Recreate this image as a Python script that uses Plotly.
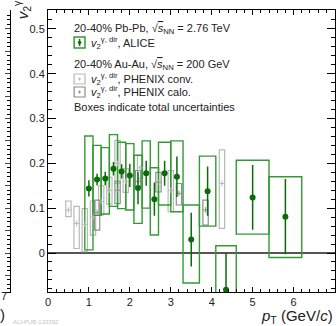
import plotly.graph_objects as go

# ---------------- data ----------------
alice_pt = [1.0, 1.2, 1.4, 1.6, 1.8, 2.0, 2.2, 2.4, 2.6, 2.85, 3.15, 3.5, 3.9, 4.35, 5.0, 5.8]
alice_v2 = [0.144, 0.164, 0.166, 0.188, 0.182, 0.173, 0.145, 0.178, 0.120, 0.178, 0.170, 0.030, 0.138, -0.082, 0.124, 0.081]
alice_stat = [0.018, 0.013, 0.015, 0.015, 0.016, 0.026, 0.036, 0.028, 0.037, 0.028, 0.045, 0.060, 0.055, 0.082, 0.072, 0.084]
alice_bin_lo = [0.9, 1.1, 1.3, 1.5, 1.7, 1.9, 2.1, 2.3, 2.5, 2.7, 3.0, 3.3, 3.7, 4.1, 4.6, 5.4]
alice_bin_hi = [1.1, 1.3, 1.5, 1.7, 1.9, 2.1, 2.3, 2.5, 2.7, 3.0, 3.3, 3.7, 4.1, 4.6, 5.4, 6.2]
alice_tot_lo = [0.007, 0.084, 0.087, 0.104, 0.099, 0.096, 0.066, 0.100, 0.040, 0.107, 0.092, -0.067, 0.060, -0.200, 0.042, -0.010]
alice_tot_hi = [0.261, 0.240, 0.235, 0.264, 0.247, 0.244, 0.218, 0.250, 0.190, 0.247, 0.250, 0.107, 0.216, 0.016, 0.207, 0.170]

conv_pt = [0.5, 0.7, 0.9, 1.1, 1.3, 1.5, 1.7, 1.9, 2.25, 3.0, 4.25]
conv_v2 = [0.096, 0.066, 0.064, 0.080, 0.115, 0.140, 0.200, 0.160, 0.190, 0.140, 0.155]
conv_tot_lo = [0.081, 0.010, 0.003, 0.040, 0.085, 0.109, 0.155, 0.135, 0.167, 0.092, 0.055]
conv_tot_hi = [0.116, 0.104, 0.099, 0.116, 0.150, 0.169, 0.251, 0.188, 0.218, 0.184, 0.230]

calo_pt = [1.2, 1.7, 2.2, 2.7, 3.2, 3.85]
calo_v2 = [0.090, 0.140, 0.160, 0.158, 0.133, 0.096]
calo_tot_lo = [0.051, 0.110, 0.147, 0.136, 0.107, 0.062]
calo_tot_hi = [0.118, 0.160, 0.184, 0.180, 0.155, 0.118]

x_ticks = [0, 1, 2, 3, 4, 5, 6, 7]
y_ticks = [0, 0.1, 0.2, 0.3, 0.4, 0.5]

# ---------------- styling ----------------
W, H = 336, 326
FONT = "Liberation Sans, Arial, Helvetica, sans-serif"
GREEN_BOX = "#339933"
GREEN_PT = "#0b6b0b"
CONV_COL = "#b8b8b8"
CALO_COL = "#8c8c8c"
PHENIX_W = 0.13


def px(x):
    return x / W


def py(y):
    return 1 - y / H


fig = go.Figure()

# PHENIX boxes
fig.add_trace(go.Bar(
    x=conv_pt, y=[h - l for h, l in zip(conv_tot_hi, conv_tot_lo)], base=conv_tot_lo,
    width=[PHENIX_W] * len(conv_pt),
    marker=dict(color="rgba(0,0,0,0)", line=dict(color=CONV_COL, width=1.2)),
    hoverinfo="skip"))
fig.add_trace(go.Bar(
    x=calo_pt, y=[h - l for h, l in zip(calo_tot_hi, calo_tot_lo)], base=calo_tot_lo,
    width=[PHENIX_W] * len(calo_pt),
    marker=dict(color="rgba(0,0,0,0)", line=dict(color=CALO_COL, width=1.2)),
    hoverinfo="skip"))

# ALICE boxes
fig.add_trace(go.Bar(
    x=[(a + b) / 2 for a, b in zip(alice_bin_lo, alice_bin_hi)],
    y=[h - l for h, l in zip(alice_tot_hi, alice_tot_lo)], base=alice_tot_lo,
    width=[b - a for a, b in zip(alice_bin_lo, alice_bin_hi)],
    marker=dict(color="rgba(0,0,0,0)", line=dict(color=GREEN_BOX, width=1.4)),
    hoverinfo="skip"))

# PHENIX markers
fig.add_trace(go.Scatter(x=conv_pt, y=conv_v2, mode="markers",
                         marker=dict(symbol="cross-thin", size=4, line=dict(color=CONV_COL, width=1))))
fig.add_trace(go.Scatter(x=calo_pt, y=calo_v2, mode="markers",
                         marker=dict(symbol="cross-thin", size=4, line=dict(color=CALO_COL, width=1))))

# ALICE points
fig.add_trace(go.Scatter(
    x=alice_pt, y=alice_v2, mode="markers",
    marker=dict(symbol="circle", size=6, color=GREEN_PT),
    error_y=dict(type="data", array=alice_stat, color=GREEN_PT, thickness=1.5, width=0)))

# fragment of neighbouring panel
fig.add_trace(go.Scatter(x=[], y=[], xaxis="x2", yaxis="y2"))

YR = [-0.087, 0.542]

fig.update_layout(
    width=W, height=H,
    margin=dict(l=0, r=0, t=0, b=0),
    paper_bgcolor="white", plot_bgcolor="white",
    showlegend=False, barmode="overlay",
    font=dict(family=FONT, size=11, color="#222"),
    xaxis=dict(domain=[px(45.5), px(335.5)], range=[0, 7], tickvals=x_ticks,
               ticks="inside", ticklen=5, tickwidth=1, tickcolor="black",
               showline=True, linecolor="black", linewidth=1, mirror="allticks",
               showgrid=False, zeroline=False,
               minor=dict(dtick=0.2, tick0=0, ticks="inside", ticklen=3, tickcolor="black", showgrid=False),
               tickfont=dict(size=11, color="#222"), anchor="y"),
    yaxis=dict(domain=[py(292), py(10)], range=YR, tickvals=y_ticks,
               ticktext=[str(v) if v else "0" for v in y_ticks],
               ticks="inside", ticklen=8, tickwidth=1, tickcolor="black",
               showline=True, linecolor="black", linewidth=1, mirror="allticks",
               showgrid=False, zeroline=True, zerolinecolor="#555", zerolinewidth=1.5,
               minor=dict(dtick=0.02, tick0=0, ticks="inside", ticklen=4, tickcolor="black", showgrid=False),
               tickfont=dict(size=11, color="#222"), anchor="x"),
    xaxis2=dict(domain=[0, px(7)], range=[0, 1], anchor="y2", showline=True, linecolor="black",
                ticks="", showticklabels=False, showgrid=False, zeroline=False),
    yaxis2=dict(domain=[py(292), py(10)], range=YR, anchor="x2", side="right",
                showline=True, linecolor="black", ticks="inside", ticklen=5, dtick=0.05, tick0=0,
                minor=dict(dtick=0.01, tick0=0, ticks="inside", ticklen=3, tickcolor="black"),
                showticklabels=False, showgrid=False, zeroline=False),
)

ann = []


def text(x, y, s, size=11, xanchor="left", yanchor="middle", color="#222", **kw):
    ann.append(dict(x=px(x), y=py(y), xref="paper", yref="paper", text=s, showarrow=False,
                    xanchor=xanchor, yanchor=yanchor, font=dict(family=FONT, size=size, color=color), **kw))


sqrt_s = "√<span style='text-decoration:overline'><i>s</i></span><sub>NN</sub>"
v2g = "<i>v</i><sub>2</sub><sup>γ, dir</sup>"
text(70, 29, "20-40% Pb-Pb, " + sqrt_s + " = 2.76 TeV")
text(87, 43, v2g + ", ALICE")
text(70, 65, "20-40% Au-Au, " + sqrt_s + " = 200 GeV")
text(87, 79, v2g + ", PHENIX conv.")
text(87, 92, v2g + ", PHENIX calo.")
text(70, 107, "Boxes indicate total uncertainties")

# axis titles
text(336, 316, "<i>p</i><sub>T</sub> (GeV/<i>c</i>)", size=15, xanchor="right")
text(19, 21, v2g, size=15, xanchor="center", yanchor="bottom", textangle=-90)
# neighbour-panel remnants
text(1.5, 296, "7", size=11, xanchor="center")
text(4, 314, ")", size=15, xanchor="right")
text(8, 322, "ALI-PUB-133392", size=6, color="#c4c4c4")

fig.update_layout(annotations=ann)

shapes = []
# legend symbol boxes
shapes.append(dict(type="rect", xref="paper", yref="paper", x0=px(72), x1=px(83), y0=py(48), y1=py(37),
                   line=dict(color=GREEN_BOX, width=1.5)))
shapes.append(dict(type="line", xref="paper", yref="paper", x0=px(77.5), x1=px(77.5), y0=py(46), y1=py(39),
                   line=dict(color=GREEN_PT, width=1.5)))
shapes.append(dict(type="circle", xref="paper", yref="paper", x0=px(76), x1=px(79), y0=py(44), y1=py(41),
                   fillcolor=GREEN_PT, line=dict(color=GREEN_PT, width=0.5)))
for y0, col in [(74, CONV_COL), (87, CALO_COL)]:
    shapes.append(dict(type="rect", xref="paper", yref="paper", x0=px(72), x1=px(83), y0=py(y0 + 10), y1=py(y0),
                       line=dict(color=col, width=1.2)))
    shapes.append(dict(type="line", xref="paper", yref="paper", x0=px(77.5), x1=px(77.5), y0=py(y0 + 6.5), y1=py(y0 + 3.5),
                       line=dict(color=col, width=1)))
    shapes.append(dict(type="line", xref="paper", yref="paper", x0=px(76), x1=px(79), y0=py(y0 + 5), y1=py(y0 + 5),
                       line=dict(color=col, width=1)))
fig.update_layout(shapes=shapes)

fig.write_html(
    "out.html",
    config={"displayModeBar": False},
    post_script="document.body.style.margin='0px';document.body.style.overflow='hidden';",
)
